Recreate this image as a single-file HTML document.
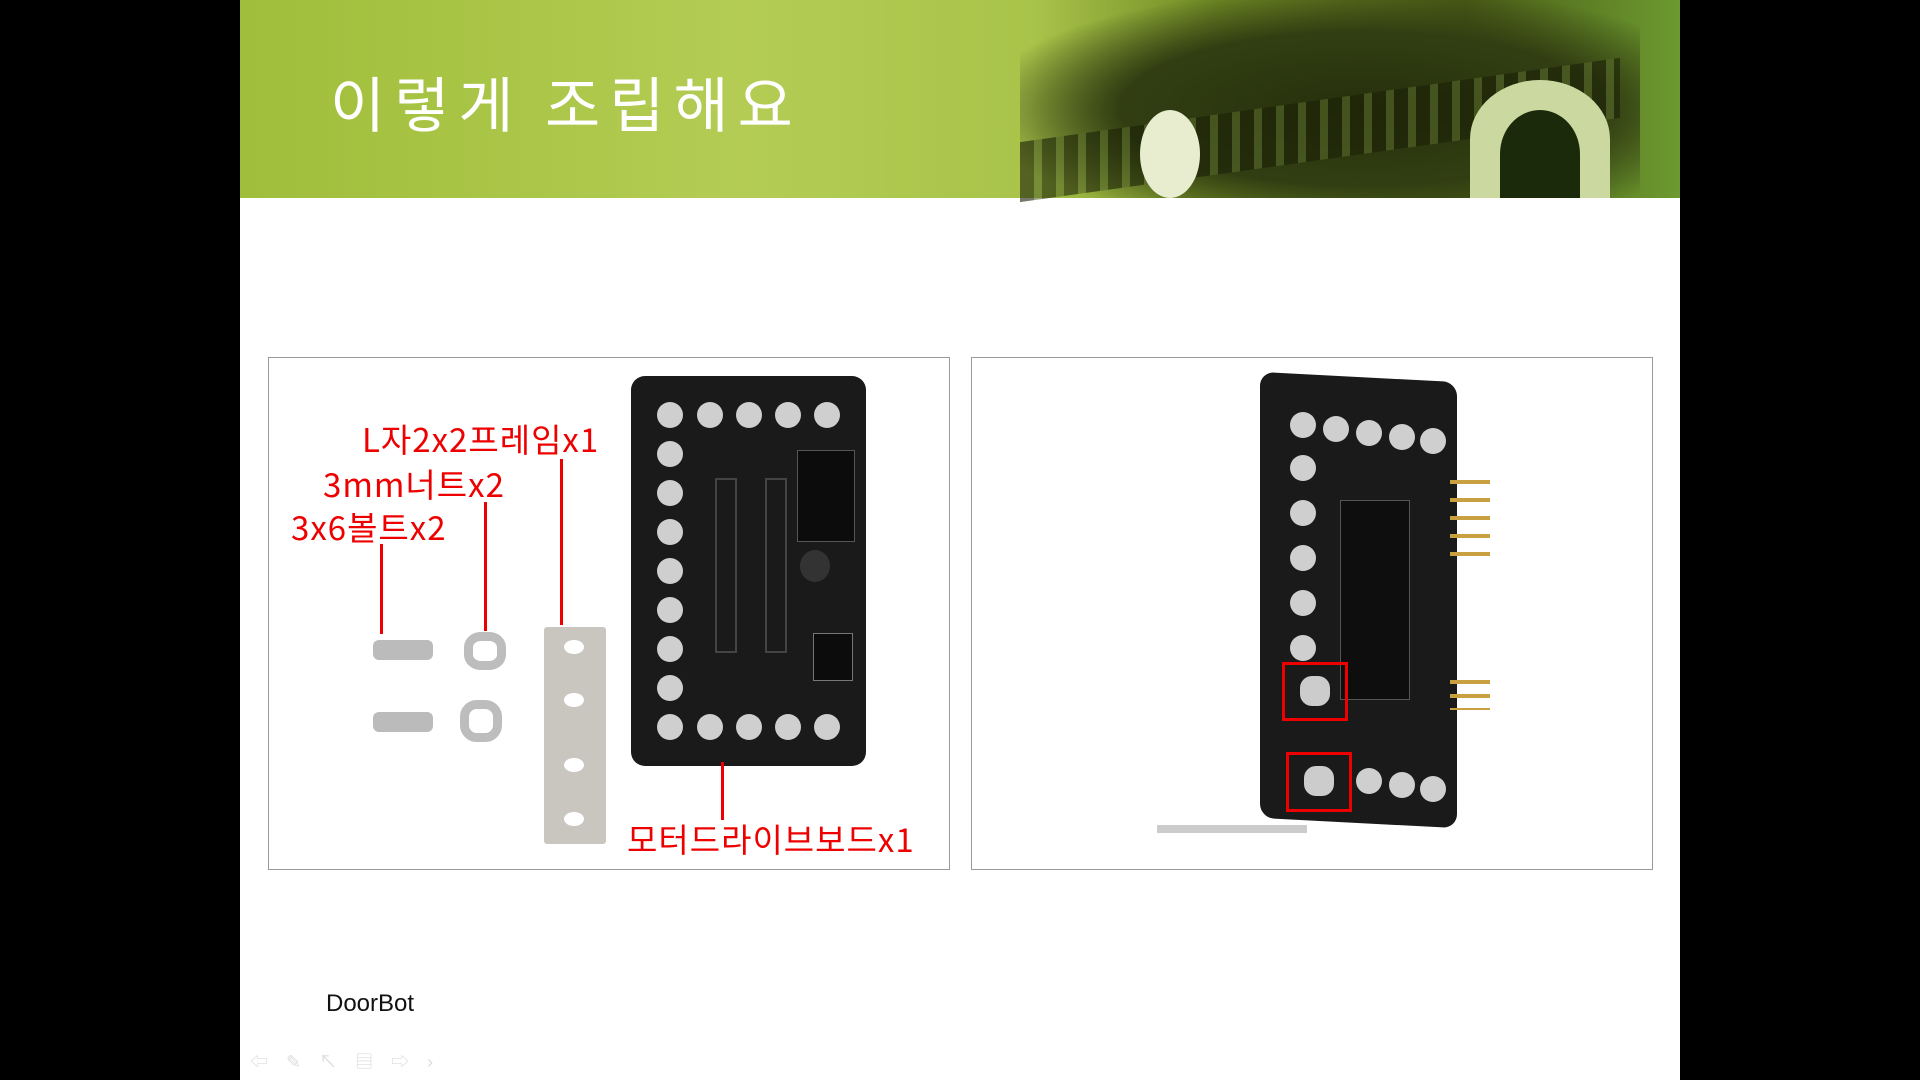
<!DOCTYPE html>
<html><head><meta charset="utf-8"><style>
*{margin:0;padding:0;box-sizing:border-box}
body{width:1920px;height:1080px;background:#000;position:relative;overflow:hidden;font-family:"Liberation Sans","Noto Sans CJK KR",sans-serif}
.a{position:absolute}
.slide{left:240px;top:0;width:1440px;height:1080px;background:#fff}
.hdr{left:240px;top:0;width:1440px;height:198px;background:linear-gradient(90deg,#9fbe3a 0%,#b4cc54 35%,#a9c44a 55%,#6f8a24 68%,#4a5c16 85%,#6d9a30 100%)}
.title{left:330px;top:58px;color:#fff;font-size:60px;letter-spacing:9px;font-family:"Noto Sans CJK KR",sans-serif}
.box{border:1px solid #9a9a9a;background:#fff}
.red{color:#e00;font-size:33px;font-family:"Noto Sans CJK KR",sans-serif;white-space:nowrap;letter-spacing:1px;line-height:40px}
.ln{background:#e00;width:3px}
.board{background:#1a1a1a;border-radius:14px}
.hole{width:26px;height:26px;border-radius:50%;background:#cfcfcf}
.rsq{border:3px solid #e00}
</style></head><body>
<div class="a slide"></div>
<div class="a hdr"></div>
<div class="a" style="left:1020px;top:0;width:620px;height:198px;background:radial-gradient(ellipse at 55% 55%,#26300c 0%,#323e12 50%,rgba(70,90,25,0) 80%)"></div>
<div class="a" style="left:1020px;top:100px;width:600px;height:60px;background:repeating-linear-gradient(90deg,#1a2006 0 14px,#56682a 14px 22px);opacity:.6;transform:skewY(-8deg)"></div>
<div class="a" style="left:1140px;top:110px;width:60px;height:88px;border-radius:50%;background:#e8edd0"></div>
<div class="a" style="left:1470px;top:80px;width:140px;height:118px;border-radius:50% 50% 0 0;background:#cbd9a0"></div>
<div class="a" style="left:1500px;top:110px;width:80px;height:88px;border-radius:50% 50% 0 0;background:#1c2a0c"></div>
<div class="a title">이렇게 조립해요</div>

<div class="a box" style="left:268px;top:357px;width:682px;height:513px"></div>
<div class="a box" style="left:971px;top:357px;width:682px;height:513px"></div>

<div class="a board" style="left:631px;top:376px;width:235px;height:390px"></div>
<div class="a hole" style="left:657px;top:402px"></div><div class="a hole" style="left:697px;top:402px"></div><div class="a hole" style="left:736px;top:402px"></div><div class="a hole" style="left:775px;top:402px"></div><div class="a hole" style="left:814px;top:402px"></div>
<div class="a hole" style="left:657px;top:441px"></div><div class="a hole" style="left:657px;top:480px"></div><div class="a hole" style="left:657px;top:519px"></div><div class="a hole" style="left:657px;top:558px"></div><div class="a hole" style="left:657px;top:597px"></div><div class="a hole" style="left:657px;top:636px"></div><div class="a hole" style="left:657px;top:675px"></div>
<div class="a hole" style="left:657px;top:714px"></div><div class="a hole" style="left:697px;top:714px"></div><div class="a hole" style="left:736px;top:714px"></div><div class="a hole" style="left:775px;top:714px"></div><div class="a hole" style="left:814px;top:714px"></div>
<div class="a" style="left:715px;top:478px;width:22px;height:175px;border:2px solid #444"></div>
<div class="a" style="left:765px;top:478px;width:22px;height:175px;border:2px solid #444"></div>
<div class="a" style="left:797px;top:450px;width:58px;height:92px;background:#0c0c0c;border:1px solid #555"></div>
<div class="a" style="left:800px;top:550px;width:30px;height:32px;border-radius:50%;background:#333"></div>
<div class="a" style="left:813px;top:633px;width:40px;height:48px;background:#0c0c0c;border:1px solid #777"></div>
<div class="a" style="left:373px;top:640px;width:60px;height:20px;background:#bbb;border-radius:6px"></div>
<div class="a" style="left:373px;top:712px;width:60px;height:20px;background:#bbb;border-radius:6px"></div>
<div class="a" style="left:464px;top:632px;width:42px;height:38px;border-radius:40%;border:9px solid #bdbdbd"></div>
<div class="a" style="left:460px;top:700px;width:42px;height:42px;border-radius:40%;border:9px solid #bdbdbd"></div>
<div class="a" style="left:544px;top:627px;width:62px;height:217px;background:#c9c6c0;border-radius:3px"></div>
<div class="a" style="left:564px;top:640px;width:20px;height:14px;border-radius:50%;background:#fff"></div>
<div class="a" style="left:564px;top:693px;width:20px;height:14px;border-radius:50%;background:#fff"></div>
<div class="a" style="left:564px;top:758px;width:20px;height:14px;border-radius:50%;background:#fff"></div>
<div class="a" style="left:564px;top:812px;width:20px;height:14px;border-radius:50%;background:#fff"></div>

<div class="a red" style="left:362px;top:418px">L자2x2프레임x1</div>
<div class="a red" style="left:323px;top:463px">3mm너트x2</div>
<div class="a red" style="left:291px;top:506px">3x6볼트x2</div>
<div class="a red" style="left:627px;top:818px">모터드라이브보드x1</div>
<div class="a ln" style="left:380px;top:544px;height:90px"></div>
<div class="a ln" style="left:484px;top:502px;height:129px"></div>
<div class="a ln" style="left:560px;top:459px;height:166px"></div>
<div class="a ln" style="left:721px;top:762px;height:58px"></div>

<div class="a board" style="left:1260px;top:377px;width:197px;height:446px;transform:skewY(3deg)"></div>
<div class="a" style="left:1157px;top:825px;width:150px;height:8px;background:#ccc"></div>
<div class="a" style="left:1340px;top:500px;width:70px;height:200px;background:#0e0e0e;border:1px solid #555"></div>
<div class="a" style="left:1450px;top:480px;width:40px;height:80px;background:repeating-linear-gradient(180deg,#c9a040 0 4px,transparent 4px 18px)"></div>
<div class="a" style="left:1450px;top:680px;width:40px;height:30px;background:repeating-linear-gradient(180deg,#c9a040 0 4px,transparent 4px 14px)"></div>
<div class="a hole" style="left:1290px;top:412px"></div><div class="a hole" style="left:1323px;top:416px"></div><div class="a hole" style="left:1356px;top:420px"></div><div class="a hole" style="left:1389px;top:424px"></div><div class="a hole" style="left:1420px;top:428px"></div>
<div class="a hole" style="left:1290px;top:455px"></div><div class="a hole" style="left:1290px;top:500px"></div><div class="a hole" style="left:1290px;top:545px"></div><div class="a hole" style="left:1290px;top:590px"></div><div class="a hole" style="left:1290px;top:635px"></div>
<div class="a hole" style="left:1356px;top:768px"></div><div class="a hole" style="left:1389px;top:772px"></div><div class="a hole" style="left:1420px;top:776px"></div>
<div class="a" style="left:1300px;top:676px;width:30px;height:30px;border-radius:40%;background:#ccc"></div>
<div class="a" style="left:1304px;top:766px;width:30px;height:30px;border-radius:40%;background:#ccc"></div>
<div class="a rsq" style="left:1282px;top:662px;width:66px;height:59px"></div>
<div class="a rsq" style="left:1286px;top:752px;width:66px;height:60px"></div>

<div class="a" style="left:326px;top:990px;font-size:24px;color:#111">DoorBot</div>
<div class="a" style="left:250px;top:1048px;font-size:18px;color:#ddd;letter-spacing:18px">⇦✎↖▤⇨›</div>
</body></html>
